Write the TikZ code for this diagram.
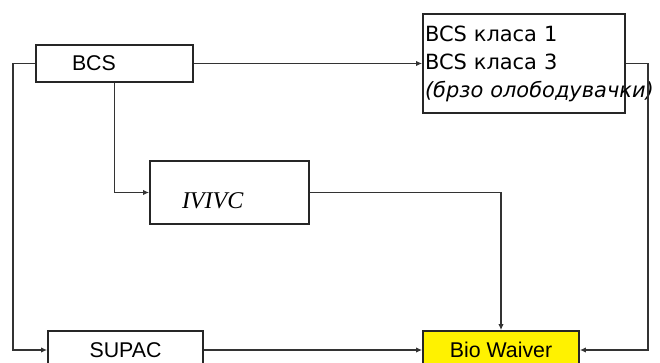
\documentclass[tikz,border=0pt]{standalone}
\usepackage{fontspec}
\setmainfont{Liberation Sans}
\newfontfamily\djv{DejaVu Sans}
\newfontfamily\tms{Liberation Serif}
\usetikzlibrary{arrows.meta}

\begin{document}
\begin{tikzpicture}[x=0.75pt,y=-0.75pt,line width=0.9pt,>={Latex[length=4.5pt,width=4pt]},
  blok/.style={draw=black!85,line width=1.3pt,minimum height=28.5pt,inner sep=0pt,
    font=\fontsize{16}{18}\selectfont},
  vrska/.style={->,draw=black!80,line width=1pt}]
  \useasboundingbox (0,0) rectangle (660,363);
  \clip (0,0) rectangle (660,363);
  % gornji red
  \node[blok,minimum height=27.75pt,text width=63.75pt,inner xsep=27pt,align=left] (bcs) at (114.5,63.5) {BCS};
  \node[blok,minimum height=74.25pt,text width=148.5pt,inner xsep=1.5pt,align=left,
    font=\djv\fontsize{15.7}{21}\selectfont] (klasa) at (524,63.5)
    {BCS класа 1\\BCS класа 3\\\makebox[0pt][l]{\itshape(брзо олободувачки)}};
  % sredina
  \node[blok,minimum height=47.25pt,text width=71.25pt,inner xsep=24pt,align=left,
    text height=24pt,text depth=0pt,
    font=\tms\itshape\fontsize{18}{20}\selectfont] (ivivc) at (229.5,192.5) {IVIVC};
  % dolen red
  \node[blok,minimum width=116.25pt] (supac) at (125.5,350) {SUPAC};
  \node[blok,fill=yellow,minimum width=117pt] (bio) at (501,350) {Bio Waiver};
  % vrski
  \draw[vrska] (bcs.east) -- (klasa.west);
  \draw[vrska] (bcs.south) |- (ivivc.west);
  \draw[vrska] (ivivc.east) -| (bio.north);
  \draw[vrska] (bcs.west) -- ++(-22,0) |- (supac.west);
  \draw[vrska] (supac.east) -- (bio.west);
  \draw[vrska] (klasa.east) -- ++(22,0) |- (bio.east);
\end{tikzpicture}
\end{document}
